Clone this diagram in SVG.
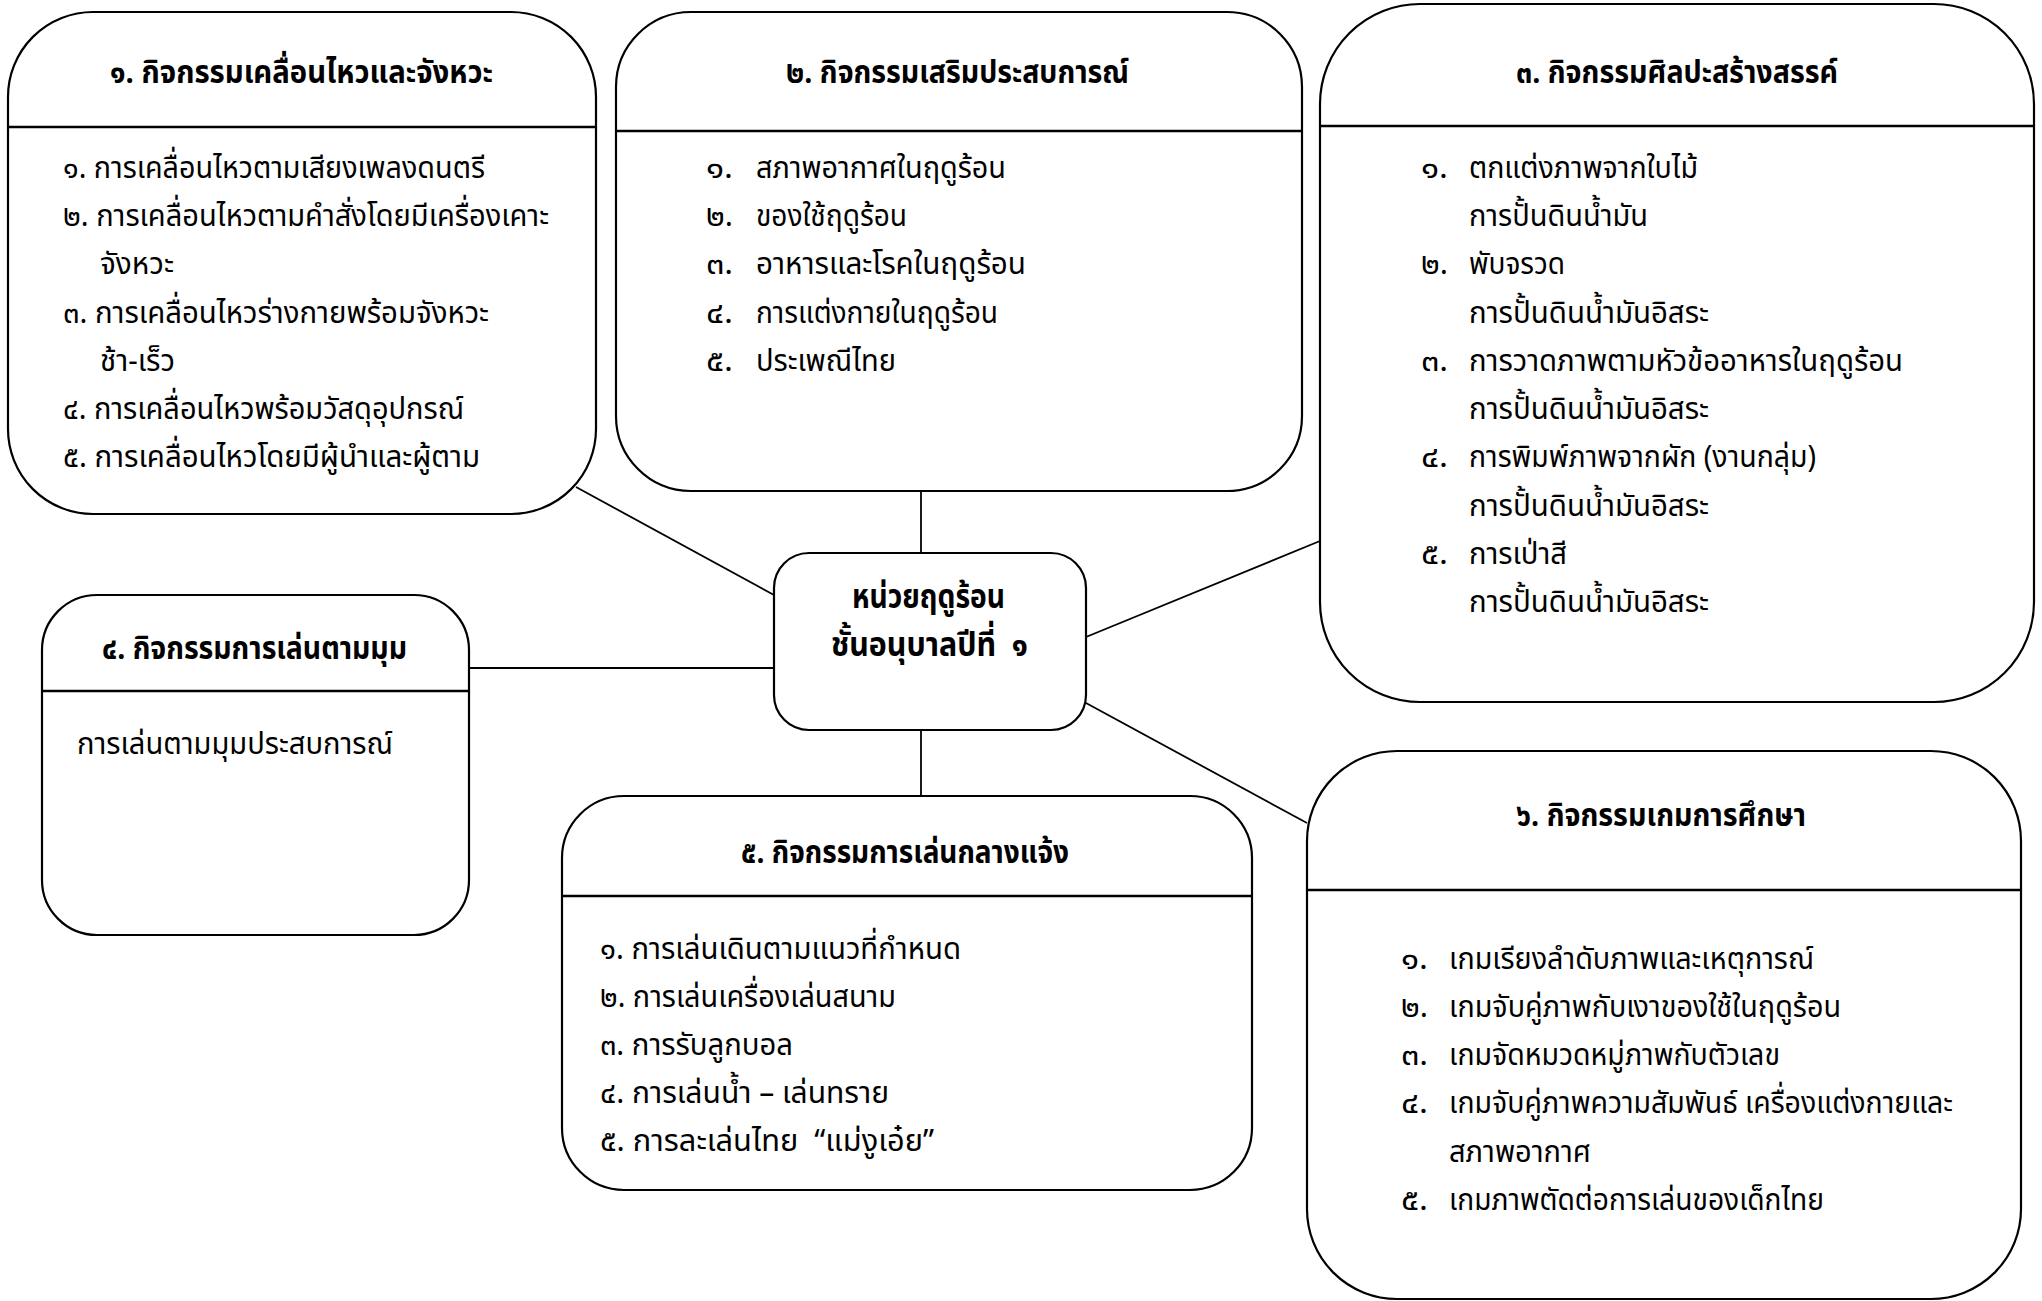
<svg xmlns="http://www.w3.org/2000/svg" width="2042" height="1301" viewBox="0 0 2042 1301">
<style>
.box{fill:#fff;stroke:#000;stroke-width:2.2}
.div{stroke:#000;stroke-width:2.4}
.con{stroke:#000;stroke-width:1.8;fill:none}
text{font-family:"Noto Sans Thai","Noto Sans","DejaVu Sans",sans-serif;fill:#000}
.t{font-size:31px;font-weight:bold}
.i{font-size:31px}
.c{font-size:34px;font-weight:bold}
</style>
<rect width="2042" height="1301" fill="#fff"/>
<g id="connectors">
<line class="con" x1="576" y1="487" x2="774" y2="595"/>
<line class="con" x1="921" y1="491" x2="921" y2="553"/>
<line class="con" x1="1086" y1="637" x2="1320" y2="541"/>
<line class="con" x1="469" y1="668" x2="774" y2="668"/>
<line class="con" x1="921" y1="730" x2="921" y2="796"/>
<line class="con" x1="1086" y1="703" x2="1307" y2="823"/>
</g>
<g id="box1">
<rect class="box" x="8" y="12" width="588" height="502" rx="85"/>
<line class="div" x1="9" y1="127" x2="595" y2="127"/>
<text class="t" x="110" y="83" textLength="383" lengthAdjust="spacingAndGlyphs">๑. กิจกรรมเคลื่อนไหวและจังหวะ</text>
<text class="i" x="63" y="178" textLength="422" lengthAdjust="spacingAndGlyphs">๑. การเคลื่อนไหวตามเสียงเพลงดนตรี</text>
<text class="i" x="63" y="226" textLength="486" lengthAdjust="spacingAndGlyphs">๒. การเคลื่อนไหวตามคำสั่งโดยมีเครื่องเคาะ</text>
<text class="i" x="100" y="274" textLength="74" lengthAdjust="spacingAndGlyphs">จังหวะ</text>
<text class="i" x="63" y="323" textLength="426" lengthAdjust="spacingAndGlyphs">๓. การเคลื่อนไหวร่างกายพร้อมจังหวะ</text>
<text class="i" x="100" y="371" textLength="75" lengthAdjust="spacingAndGlyphs">ช้า-เร็ว</text>
<text class="i" x="63" y="419" textLength="401" lengthAdjust="spacingAndGlyphs">๔. การเคลื่อนไหวพร้อมวัสดุอุปกรณ์</text>
<text class="i" x="63" y="467" textLength="417" lengthAdjust="spacingAndGlyphs">๕. การเคลื่อนไหวโดยมีผู้นำและผู้ตาม</text>
</g>
<g id="box2">
<rect class="box" x="616" y="12" width="686" height="479" rx="75"/>
<line class="div" x1="617" y1="131" x2="1301" y2="131"/>
<text class="t" x="786" y="83" textLength="343" lengthAdjust="spacingAndGlyphs">๒. กิจกรรมเสริมประสบการณ์</text>
<text class="i" x="706" y="178" textLength="27" lengthAdjust="spacingAndGlyphs">๑.</text>
<text class="i" x="756" y="178" textLength="250" lengthAdjust="spacingAndGlyphs">สภาพอากาศในฤดูร้อน</text>
<text class="i" x="706" y="226" textLength="27" lengthAdjust="spacingAndGlyphs">๒.</text>
<text class="i" x="756" y="226" textLength="151" lengthAdjust="spacingAndGlyphs">ของใช้ฤดูร้อน</text>
<text class="i" x="706" y="274" textLength="27" lengthAdjust="spacingAndGlyphs">๓.</text>
<text class="i" x="756" y="274" textLength="270" lengthAdjust="spacingAndGlyphs">อาหารและโรคในฤดูร้อน</text>
<text class="i" x="706" y="323" textLength="27" lengthAdjust="spacingAndGlyphs">๔.</text>
<text class="i" x="756" y="323" textLength="242" lengthAdjust="spacingAndGlyphs">การแต่งกายในฤดูร้อน</text>
<text class="i" x="706" y="371" textLength="27" lengthAdjust="spacingAndGlyphs">๕.</text>
<text class="i" x="756" y="371" textLength="140" lengthAdjust="spacingAndGlyphs">ประเพณีไทย</text>
</g>
<g id="box3">
<rect class="box" x="1320" y="4" width="714" height="698" rx="100"/>
<line class="div" x1="1321" y1="126" x2="2033" y2="126"/>
<text class="t" x="1516" y="83" textLength="322" lengthAdjust="spacingAndGlyphs">๓. กิจกรรมศิลปะสร้างสรรค์</text>
<text class="i" x="1421" y="178" textLength="27" lengthAdjust="spacingAndGlyphs">๑.</text>
<text class="i" x="1469" y="178" textLength="229" lengthAdjust="spacingAndGlyphs">ตกแต่งภาพจากใบไม้</text>
<text class="i" x="1469" y="226" textLength="179" lengthAdjust="spacingAndGlyphs">การปั้นดินน้ำมัน</text>
<text class="i" x="1421" y="274" textLength="27" lengthAdjust="spacingAndGlyphs">๒.</text>
<text class="i" x="1469" y="274" textLength="96" lengthAdjust="spacingAndGlyphs">พับจรวด</text>
<text class="i" x="1469" y="323" textLength="240" lengthAdjust="spacingAndGlyphs">การปั้นดินน้ำมันอิสระ</text>
<text class="i" x="1421" y="371" textLength="27" lengthAdjust="spacingAndGlyphs">๓.</text>
<text class="i" x="1469" y="371" textLength="434" lengthAdjust="spacingAndGlyphs">การวาดภาพตามหัวข้ออาหารในฤดูร้อน</text>
<text class="i" x="1469" y="419" textLength="240" lengthAdjust="spacingAndGlyphs">การปั้นดินน้ำมันอิสระ</text>
<text class="i" x="1421" y="467" textLength="27" lengthAdjust="spacingAndGlyphs">๔.</text>
<text class="i" x="1469" y="467" textLength="347" lengthAdjust="spacingAndGlyphs">การพิมพ์ภาพจากผัก (งานกลุ่ม)</text>
<text class="i" x="1469" y="516" textLength="240" lengthAdjust="spacingAndGlyphs">การปั้นดินน้ำมันอิสระ</text>
<text class="i" x="1421" y="564" textLength="27" lengthAdjust="spacingAndGlyphs">๕.</text>
<text class="i" x="1469" y="564" textLength="98" lengthAdjust="spacingAndGlyphs">การเป่าสี</text>
<text class="i" x="1469" y="612" textLength="240" lengthAdjust="spacingAndGlyphs">การปั้นดินน้ำมันอิสระ</text>
</g>
<g id="center">
<rect class="box" x="774" y="553" width="312" height="177" rx="35"/>
<text class="c" x="852" y="608" textLength="153" lengthAdjust="spacingAndGlyphs">หน่วยฤดูร้อน</text>
<text class="c" x="831" y="656" textLength="197" lengthAdjust="spacingAndGlyphs" xml:space="preserve">ชั้นอนุบาลปีที่  ๑</text>
</g>
<g id="box4">
<rect class="box" x="42" y="595" width="427" height="340" rx="55"/>
<line class="div" x1="43" y1="691" x2="468" y2="691"/>
<text class="t" x="102" y="659" textLength="305" lengthAdjust="spacingAndGlyphs">๔. กิจกรรมการเล่นตามมุม</text>
<text class="i" x="77" y="754" textLength="316" lengthAdjust="spacingAndGlyphs">การเล่นตามมุมประสบการณ์</text>
</g>
<g id="box5">
<rect class="box" x="562" y="796" width="690" height="394" rx="62"/>
<line class="div" x1="563" y1="896" x2="1251" y2="896"/>
<text class="t" x="741" y="863" textLength="328" lengthAdjust="spacingAndGlyphs">๕. กิจกรรมการเล่นกลางแจ้ง</text>
<text class="i" x="600" y="959" textLength="361" lengthAdjust="spacingAndGlyphs">๑. การเล่นเดินตามแนวที่กำหนด</text>
<text class="i" x="600" y="1007" textLength="296" lengthAdjust="spacingAndGlyphs">๒. การเล่นเครื่องเล่นสนาม</text>
<text class="i" x="600" y="1055" textLength="193" lengthAdjust="spacingAndGlyphs">๓. การรับลูกบอล</text>
<text class="i" x="600" y="1103" textLength="289" lengthAdjust="spacingAndGlyphs">๔. การเล่นน้ำ – เล่นทราย</text>
<text class="i" x="600" y="1151" textLength="334" lengthAdjust="spacingAndGlyphs" xml:space="preserve">๕. การละเล่นไทย  “แม่งูเอ๋ย”</text>
</g>
<g id="box6">
<rect class="box" x="1307" y="751" width="714" height="548" rx="90"/>
<line class="div" x1="1308" y1="890" x2="2020" y2="890"/>
<text class="t" x="1516" y="826" textLength="290" lengthAdjust="spacingAndGlyphs">๖. กิจกรรมเกมการศึกษา</text>
<text class="i" x="1401" y="969" textLength="27" lengthAdjust="spacingAndGlyphs">๑.</text>
<text class="i" x="1449" y="969" textLength="365" lengthAdjust="spacingAndGlyphs">เกมเรียงลำดับภาพและเหตุการณ์</text>
<text class="i" x="1401" y="1017" textLength="27" lengthAdjust="spacingAndGlyphs">๒.</text>
<text class="i" x="1449" y="1017" textLength="392" lengthAdjust="spacingAndGlyphs">เกมจับคู่ภาพกับเงาของใช้ในฤดูร้อน</text>
<text class="i" x="1401" y="1065" textLength="27" lengthAdjust="spacingAndGlyphs">๓.</text>
<text class="i" x="1449" y="1065" textLength="331" lengthAdjust="spacingAndGlyphs">เกมจัดหมวดหมู่ภาพกับตัวเลข</text>
<text class="i" x="1401" y="1113" textLength="27" lengthAdjust="spacingAndGlyphs">๔.</text>
<text class="i" x="1449" y="1113" textLength="504" lengthAdjust="spacingAndGlyphs">เกมจับคู่ภาพความสัมพันธ์ เครื่องแต่งกายและ</text>
<text class="i" x="1449" y="1162" textLength="142" lengthAdjust="spacingAndGlyphs">สภาพอากาศ</text>
<text class="i" x="1401" y="1210" textLength="27" lengthAdjust="spacingAndGlyphs">๕.</text>
<text class="i" x="1449" y="1210" textLength="375" lengthAdjust="spacingAndGlyphs">เกมภาพตัดต่อการเล่นของเด็กไทย</text>
</g>
</svg>
